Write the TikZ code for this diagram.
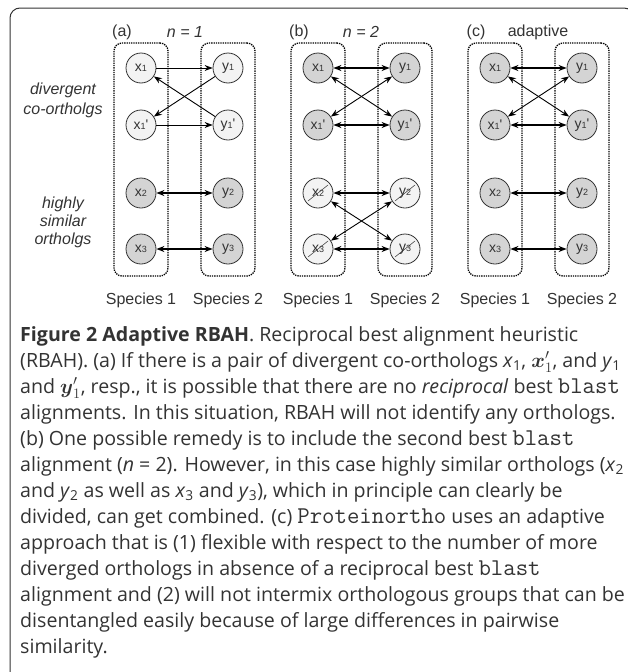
\documentclass[tikz,border=0pt]{standalone}
\usepackage{amsmath}
\usepackage{amssymb}
\usepackage{fontspec}
\setmainfont{Open Sans}
\setmonofont{Latin Modern Mono}[Scale=1.23]
\newfontfamily\arialfont{Liberation Sans}
\usepackage{tikz}
\usetikzlibrary{arrows.meta,positioning}
\definecolor{palefill}{HTML}{F3F3F3}
\definecolor{greyfill}{HTML}{D4D4D4}
\definecolor{ink}{HTML}{333333}
\newcommand{\ix}[1]{{\fontsize{9}{9}\selectfont #1}}
\newcommand{\vx}[1]{\textit{x}\textsubscript{#1}}
\newcommand{\vy}[1]{\textit{y}\textsubscript{#1}}
\newcommand{\bigx}{{\fontsize{20}{26}\selectfont$\boldsymbol{x}'_{1}$}}
\newcommand{\bigy}{{\fontsize{20}{26}\selectfont$\boldsymbol{y}'_{1}$}}
\tikzstyle{gene} = [circle, draw=ink, line width=0.8pt, minimum size=30pt, inner sep=0pt, text=ink, font=\arialfont\fontsize{14}{14}\selectfont]
\tikzstyle{palegene} = [gene, fill=palefill]
\tikzstyle{greygene} = [gene, fill=greyfill]
\tikzstyle{struckgene} = [palegene, path picture={\draw [ink, line width=0.5pt] ([xshift=-10pt,yshift=-8pt]path picture bounding box.center) -- ++(20pt,16pt);}]
\tikzstyle{species} = [rectangle, rounded corners=8pt, draw=black, line width=1.3pt, densely dotted, minimum width=54pt, minimum height=233pt]
\tikzstyle{paneltext} = [text=ink, inner sep=0pt, font=\arialfont\fontsize{16}{20}\selectfont]
\tikzstyle{hit} = [line width=0.9pt, ->, >={Stealth[length=8pt,width=6pt]}]
\tikzstyle{besthit} = [line width=1.5pt, <->, >={Stealth[length=8pt,width=6pt]}]
\tikzstyle{crosshit} = [line width=0.9pt, <->, >={Stealth[length=8pt,width=6pt]}]

\begin{document}
\begin{tikzpicture}[x=1pt, y=-1pt]
    \useasboundingbox (0,0) rectangle (627,672);
    \draw [ink, line width=1pt, rounded corners=10pt] (10,8) rectangle (634,682);

    % side labels
    \node (divlab) [paneltext, align=center, font=\arialfont\itshape\fontsize{16}{20}\selectfont] at (63,100) {divergent\\co-ortholgs};
    \node (simlab) [paneltext, align=center, font=\arialfont\itshape\fontsize{16}{18}\selectfont] at (63,222) {highly\\similar\\ortholgs};

    % (a) n = 1
    \node (as1) [species] at (141,159.5) {};
    \node (as2) [species] at (228,159.5) {};
    \node (alab) [paneltext] at (122,32) {(a)};
    \node (anlab) [paneltext, font=\arialfont\itshape\fontsize{16}{20}\selectfont] at (185,32) {n = 1};
    \node (ax1) [palegene] at (141,68) {x\ix{1}};
    \node (ax1p) [palegene] at (141,125) {x\ix{1}'};
    \node (ax2) [greygene] at (141,193) {x\ix{2}};
    \node (ax3) [greygene] at (141,249) {x\ix{3}};
    \node (ay1) [palegene] at (228,68) {y\ix{1}};
    \node (ay1p) [palegene] at (228,125) {y\ix{1}'};
    \node (ay2) [greygene] at (228,193) {y\ix{2}};
    \node (ay3) [greygene] at (228,249) {y\ix{3}};
    \node (asp1) [paneltext, below=16pt of as1] {Species 1};
    \node (asp2) [paneltext, below=16pt of as2] {Species 2};
    \draw [hit] (ax1) -- (ay1);
    \draw [hit] (ax1p) -- (ay1p);
    \draw [hit] (ay1) -- (ax1p);
    \draw [hit] (ay1p) -- (ax1);
    \draw [besthit] (ax2) -- (ay2);
    \draw [besthit] (ax3) -- (ay3);

    % (b) n = 2
    \node (bs1) [species] at (318,159.5) {};
    \node (bs2) [species] at (405,159.5) {};
    \node (blab) [paneltext] at (299,32) {(b)};
    \node (bnlab) [paneltext, font=\arialfont\itshape\fontsize{16}{20}\selectfont] at (361,32) {n = 2};
    \node (bx1) [greygene] at (318,68) {x\ix{1}};
    \node (bx1p) [greygene] at (318,125) {x\ix{1}'};
    \node (bx2) [struckgene] at (318,193) {x\ix{2}};
    \node (bx3) [struckgene] at (318,249) {x\ix{3}};
    \node (by1) [greygene] at (405,68) {y\ix{1}};
    \node (by1p) [greygene] at (405,125) {y\ix{1}'};
    \node (by2) [struckgene] at (405,193) {y\ix{2}};
    \node (by3) [struckgene] at (405,249) {y\ix{3}};
    \node (bsp1) [paneltext, below=16pt of bs1] {Species 1};
    \node (bsp2) [paneltext, below=16pt of bs2] {Species 2};
    \draw [besthit] (bx1) -- (by1);
    \draw [besthit] (bx1p) -- (by1p);
    \draw [crosshit] (bx1) -- (by1p);
    \draw [crosshit] (bx1p) -- (by1);
    \draw [besthit] (bx2) -- (by2);
    \draw [besthit] (bx3) -- (by3);
    \draw [crosshit] (bx2) -- (by3);
    \draw [crosshit] (bx3) -- (by2);

    % (c) adaptive
    \node (cs1) [species] at (495,159.5) {};
    \node (cs2) [species] at (582,159.5) {};
    \node (clab) [paneltext] at (476,32) {(c)};
    \node (cnlab) [paneltext] at (538,32) {adaptive};
    \node (cx1) [greygene] at (495,68) {x\ix{1}};
    \node (cx1p) [greygene] at (495,125) {x\ix{1}'};
    \node (cx2) [greygene] at (495,193) {x\ix{2}};
    \node (cx3) [greygene] at (495,249) {x\ix{3}};
    \node (cy1) [greygene] at (582,68) {y\ix{1}};
    \node (cy1p) [greygene] at (582,125) {y\ix{1}'};
    \node (cy2) [greygene] at (582,193) {y\ix{2}};
    \node (cy3) [greygene] at (582,249) {y\ix{3}};
    \node (csp1) [paneltext, below=16pt of cs1] {Species 1};
    \node (csp2) [paneltext, below=16pt of cs2] {Species 2};
    \draw [besthit] (cx1) -- (cy1);
    \draw [besthit] (cx1p) -- (cy1p);
    \draw [crosshit] (cx1) -- (cy1p);
    \draw [crosshit] (cx1p) -- (cy1);
    \draw [besthit] (cx2) -- (cy2);
    \draw [besthit] (cx3) -- (cy3);

    % caption
    \node (caption) [anchor=north west, inner sep=0pt, align=left, text=ink, font=\fontsize{19.6}{26}\selectfont] at (20,326) {%
        \textbf{Figure 2 Adaptive RBAH}. Reciprocal best alignment heuristic\\
        (RBAH). (a) If there is a pair of divergent co-orthologs \vx{1}, \bigx, and \vy{1}\\
        and \bigy, resp., it is possible that there are no \textit{reciprocal} best \texttt{blast}\\
        alignments. In this situation, RBAH will not identify any orthologs.\\
        (b) One possible remedy is to include the second best \texttt{blast}\\
        alignment (\textit{n} = 2). However, in this case highly similar orthologs (\vx{2}\\
        and \vy{2} as well as \vx{3} and \vy{3}), which in principle can clearly be\\
        divided, can get combined. (c) \texttt{Proteinortho} uses an adaptive\\
        approach that is (1) flexible with respect to the number of more\\
        diverged orthologs in absence of a reciprocal best \texttt{blast}\\
        alignment and (2) will not intermix orthologous groups that can be\\
        disentangled easily because of large differences in pairwise\\
        similarity.};
\end{tikzpicture}
\end{document}
